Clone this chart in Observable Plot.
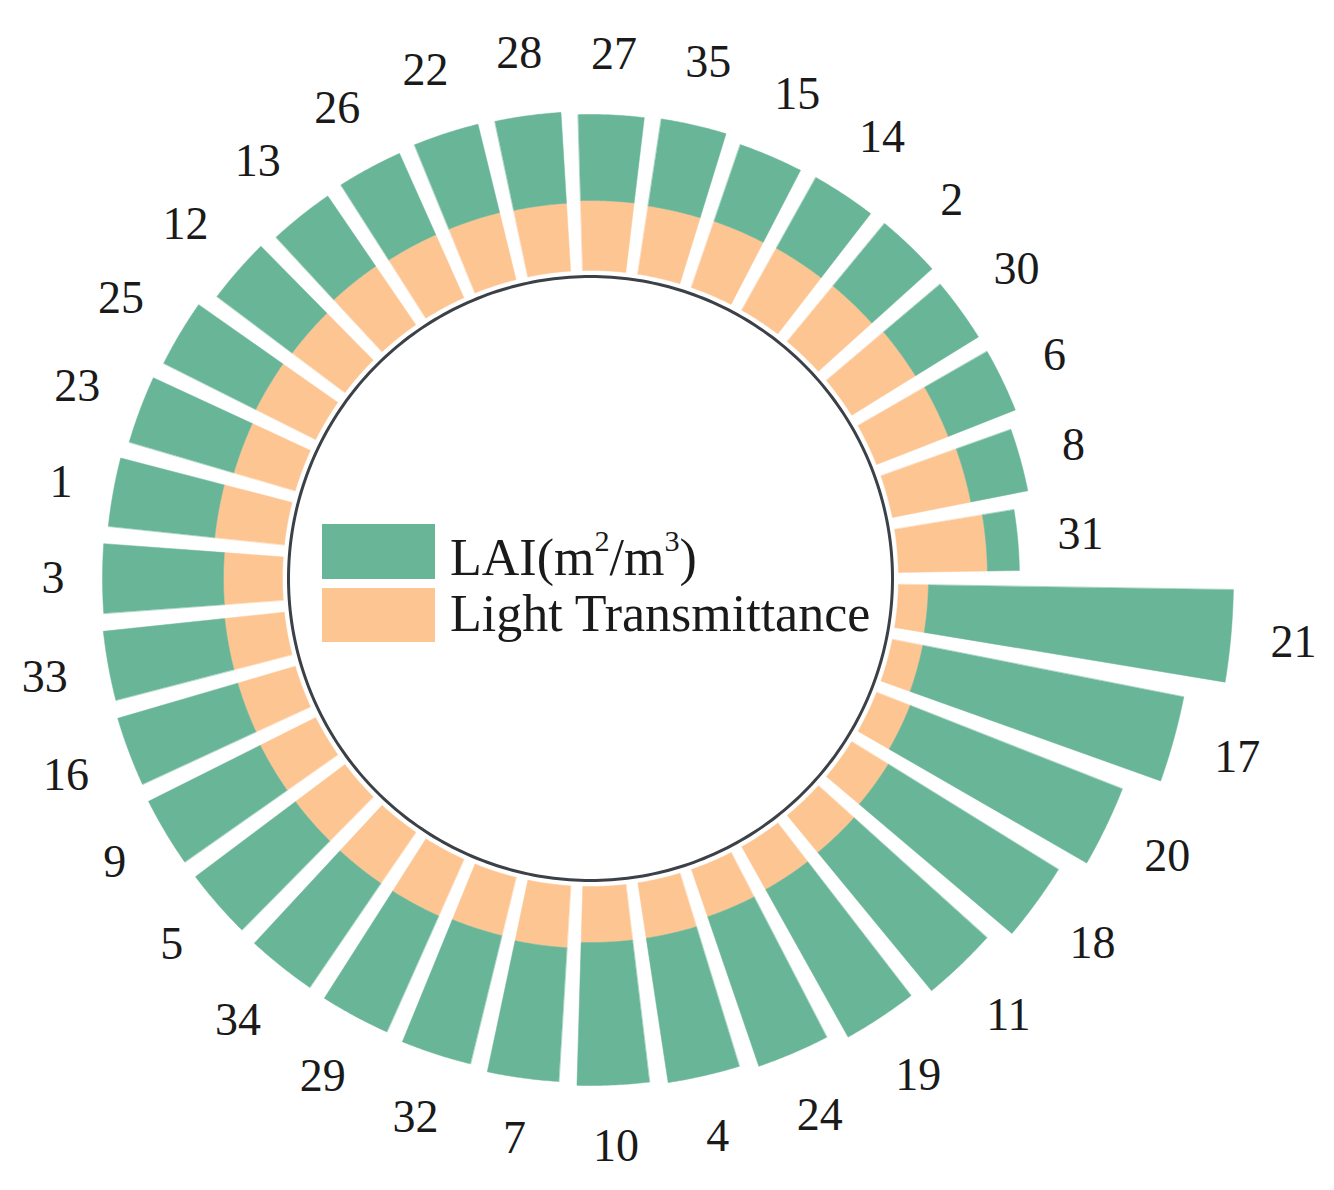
<!DOCTYPE html>
<html>
<head>
<meta charset="utf-8">
<script src="https://cdn.jsdelivr.net/npm/d3@7"></script>
<script src="https://cdn.jsdelivr.net/npm/@observablehq/plot@0.6"></script>
<style>
  html, body { margin: 0; padding: 0; background: #ffffff; }
  #wrap { position: relative; width: 1334px; height: 1190px; }
  #legend { position: absolute; left: 0; top: 0; font-family: "Liberation Serif", "Times New Roman", serif; color: #1a1a1a; }
  .sw { position: absolute; width: 113px; }
  .lt { position: absolute; font-size: 52px; line-height: 52px; white-space: nowrap; }
  .lt sup { font-size: 0.58em; line-height: 0; vertical-align: 0.78em; }
</style>
</head>
<body>
<div id="wrap">
  <div id="chart"></div>
  <div id="legend"></div>
</div>
<script>
// ---- data ----
const ids = ["21","17","20","18","11","19","24","4","10","7","32","29","34","5","9","16","33","3","1","23","25","12","13","26","22","28","27","35","15","14","2","30","6","8","31"];
const lightTransmittance = [0.30,0.31,0.36,0.43,0.48,0.49,0.50,0.56,0.56,0.62,0.60,0.62,0.62,0.62,0.62,0.60,0.60,0.59,0.70,0.64,0.67,0.66,0.71,0.69,0.69,0.68,0.70,0.69,0.70,0.71,0.72,0.75,0.77,0.80,0.89];
const lai = [3.05,2.66,2.28,2.00,1.79,1.69,1.58,1.46,1.43,1.34,1.32,1.27,1.26,1.25,1.25,1.25,1.22,1.21,1.07,1.09,1.03,0.94,0.85,0.89,0.91,0.91,0.86,0.88,0.81,0.81,0.81,0.74,0.72,0.58,0.32];
const seriesNames = ["LAI(m²/m³)", "Light Transmittance"];
const colors = { lai: "#69b598", lt: "#fdc592" };

// ---- layout ----
const W = 1334, H = 1190;
const CX = 590, CY = 578, PX = 100;     // center (px) and px per unit
const R0 = 3.08;                         // bars start radius (units)
const RC = 3.02;                         // circle radius (units)
const n = ids.length;
const slot = 2 * Math.PI / n;
const padAng = 1.8 * Math.PI / 180;
const padLin = 0.025;

function edge(base, r, sign) {
  return base + sign * (padAng / 2 + Math.asin((padLin / 2) / r));
}
function sector(id, a0, a1, r0, r1) {
  const pts = [], N = 30;
  const s0 = edge(a0, r0, 1), e0 = edge(a1, r0, -1);
  const s1 = edge(a0, r1, 1), e1 = edge(a1, r1, -1);
  for (let k = 0; k <= N; k++) { const t = s0 + (e0 - s0) * k / N; pts.push({id, x: r0 * Math.cos(t), y: r0 * Math.sin(t)}); }
  for (let k = 0; k <= N; k++) { const t = e1 + (s1 - e1) * k / N; pts.push({id, x: r1 * Math.cos(t), y: r1 * Math.sin(t)}); }
  return pts;
}

const ltPts = [], laiPts = [], labels = [];
ids.forEach((id, i) => {
  const a0 = i * slot, a1 = (i + 1) * slot, am = (i + 0.5) * slot;
  const rMid = R0 + lightTransmittance[i];
  const rOut = rMid + lai[i];
  ltPts.push(...sector(id, a0, a1, R0, rMid));
  laiPts.push(...sector(id, a0, a1, rMid, rOut));
  const off = 0.38 + Math.abs(Math.cos(am)) * id.length * 0.115 + Math.abs(Math.sin(am)) * 0.22;
  labels.push({id, x: (rOut + off) * Math.cos(am), y: (rOut + off) * Math.sin(am)});
});
const circle = d3.range(0, 361).map(d => ({x: RC * Math.cos(d * Math.PI / 180), y: RC * Math.sin(d * Math.PI / 180)}));

const chart = Plot.plot({
  width: W, height: H, margin: 0,
  style: { background: "#ffffff" },
  x: { domain: [-CX / PX, (W - CX) / PX], range: [0, W], axis: null },
  y: { domain: [-CY / PX, (H - CY) / PX], range: [0, H], axis: null },
  marks: [
    Plot.line(ltPts, { x: "x", y: "y", z: "id", fill: colors.lt, stroke: colors.lt, strokeWidth: 0.5, curve: "linear-closed" }),
    Plot.line(laiPts, { x: "x", y: "y", z: "id", fill: colors.lai, stroke: colors.lai, strokeWidth: 0.5, curve: "linear-closed" }),
    Plot.line(circle, { x: "x", y: "y", stroke: "#3c4047", strokeWidth: 3, curve: "linear-closed" }),
    Plot.text(labels, { x: "x", y: "y", text: "id", fontSize: 46, fontFamily: "Liberation Serif", fill: "#1a1a1a", textAnchor: "middle", lineAnchor: "middle" })
  ]
});
document.getElementById("chart").appendChild(chart);

// ---- legend (inside the ring) ----
const lg = document.getElementById("legend");
lg.innerHTML = `
  <div class="sw" style="left:322px;top:524px;height:55px;background:${colors.lai}"></div>
  <div class="sw" style="left:322px;top:588px;height:54px;background:${colors.lt}"></div>
  <div class="lt" style="left:450px;top:532px">LAI(m<sup>2</sup>/m<sup>3</sup>)</div>
  <div class="lt" style="left:450px;top:588px">${seriesNames[1]}</div>`;
</script>
</body>
</html>
